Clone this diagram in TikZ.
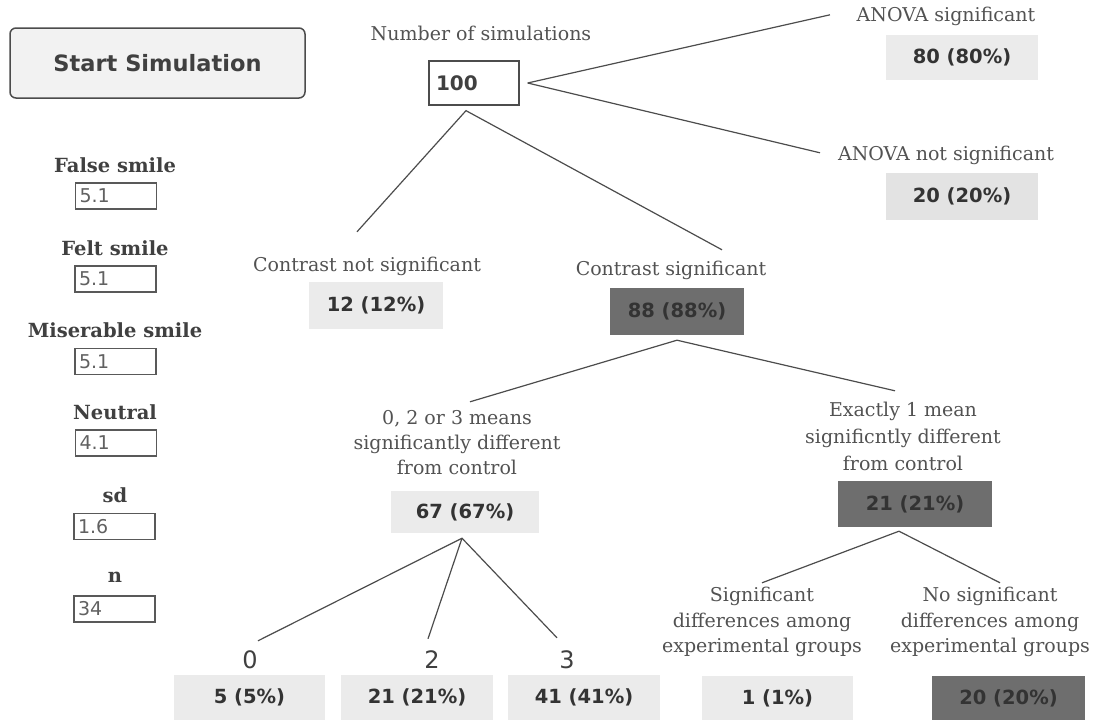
\documentclass[tikz,border=0pt]{standalone}
\usepackage{fontspec}
\setmainfont{DejaVu Serif}
\setsansfont{DejaVu Sans}
\begin{document}
\begin{tikzpicture}[x=1pt,y=-1pt,
  lbl/.style={font=\fontsize{19}{25}\selectfont\rmfamily, text=black!68, inner sep=1pt, align=center},
  parlbl/.style={font=\fontsize{19.5}{22}\selectfont\rmfamily\bfseries, text=black!75, inner sep=1pt},
  inbox/.style={draw=black!65, line width=1.3pt, minimum width=81pt, minimum height=26pt, text width=73pt, inner xsep=4pt, inner ysep=0pt, align=left, font=\fontsize{19}{20}\selectfont\sffamily, text=black!62},
  res/.style={fill=black!8, minimum width=152pt, minimum height=45pt, inner sep=0pt, font=\fontsize{19.5}{22}\selectfont\sffamily\bfseries, text=black!80},
  resdark/.style={res, fill=black!57, text=black!80},
  link/.style={draw=black!70, line width=1.2pt},
  digit/.style={font=\fontsize{24}{26}\selectfont\sffamily, text=black!75, inner sep=1pt}
]
\useasboundingbox (0,0) rectangle (1098,720);

% Start button
\node[draw=black!70, line width=1.5pt, rounded corners=6pt, fill=black!5, minimum width=295pt, minimum height=70pt,
  font=\fontsize{22.5}{26}\selectfont\sffamily\bfseries, text=black!75] (start) at (157.5,63) {Start Simulation};

% parameter inputs
\node[parlbl] (pl1) at (115,165) {False smile};
\node[inbox] (pv1) at (116,196) {5.1};
\node[parlbl] (pl2) at (115,248) {Felt smile};
\node[inbox] (pv2) at (115.5,279) {5.1};
\node[parlbl] (pl3) at (115,330) {Miserable smile};
\node[inbox] (pv3) at (115.5,361.5) {5.1};
\node[parlbl] (pl4) at (115,412) {Neutral};
\node[inbox] (pv4) at (116,443) {4.1};
\node[parlbl] (pl5) at (115,495) {sd};
\node[inbox] (pv5) at (114.5,526.5) {1.6};
\node[parlbl] (pl6) at (115,577) {n};
\node[inbox] (pv6) at (114.5,609) {34};

% root
\node[lbl] (nsim) at (481,33) {Number of simulations};
\node[draw=black!70, line width=1.3pt, minimum width=90pt, minimum height=44pt, text width=76pt, inner xsep=7pt, align=left,
  font=\fontsize{20}{22}\selectfont\sffamily\bfseries, text=black!75] (n100) at (474,83) {100};

% ANOVA
\node[lbl] (asig) at (946,16) {ANOVA significant};
\node[res] (b80) at (962,57.5) {80 (80\%)};
\node[lbl] (ansig) at (946,155) {ANOVA not significant};
\node[res, fill=black!11, minimum height=47pt] (b20a) at (962,196.5) {20 (20\%)};

% Contrast
\node[lbl] (cns) at (367,266) {Contrast not significant};
\node[res, minimum width=134pt, minimum height=47pt] (b12) at (376,305.5) {12 (12\%)};
\node[lbl] (cs) at (671,270) {Contrast significant};
\node[resdark, minimum width=134pt, minimum height=47pt] (b88) at (677,311.5) {88 (88\%)};

% second level
\node[lbl, font=\fontsize{19}{25}\selectfont\rmfamily] (m023) at (457,443) {0, 2 or 3 means\\significantly different\\from control};
\node[res, minimum width=148pt, minimum height=42pt] (b67) at (465,512) {67 (67\%)};
\node[lbl, font=\fontsize{19}{27}\selectfont\rmfamily] (m1) at (903,436) {Exactly 1 mean\\significntly different\\from control};
\node[resdark, minimum width=154pt, minimum height=46pt] (b21) at (915,504) {21 (21\%)};

% third level
\node[digit] (l0) at (250,660) {0};
\node[digit] (l2) at (432,660) {2};
\node[digit] (l3) at (567,660) {3};
\node[res, minimum width=151pt] (b5) at (249.5,697.5) {5 (5\%)};
\node[res] (b21b) at (417,697.5) {21 (21\%)};
\node[res] (b41) at (584,697.5) {41 (41\%)};

\node[lbl, font=\fontsize{19}{25.5}\selectfont\rmfamily] (sdg) at (762,622) {Significant\\differences among\\experimental groups};
\node[lbl, font=\fontsize{19}{25.5}\selectfont\rmfamily] (nsdg) at (990,622) {No significant\\differences among\\experimental groups};
\node[res, minimum width=151pt, minimum height=44pt] (b1) at (777.5,698) {1 (1\%)};
\node[resdark, minimum width=153pt, minimum height=44pt] (b20b) at (1008.5,698) {20 (20\%)};

% connectors
\draw[link] ([xshift=8pt]n100.east) -- ([shift={(-132,-20)}]b80.north);
\draw[link] ([xshift=8pt]n100.east) -- ([shift={(-142,-20)}]b20a.north);
\draw[link] ([shift={(-19,-50)}]b12.north) -- ([shift={(-8,5)}]n100.south) -- ([shift={(45,-38)}]b88.north);
\draw[link] ([shift={(5,-89)}]b67.north) -- ([shift={(0,5)}]b88.south) -- ([shift={(-20,-90)}]b21.north);
\draw[link] ([shift={(8.5,-34)}]b5.north) -- ([shift={(-3,5)}]b67.south) -- ([shift={(-27,-37)}]b41.north);
\draw[link] ([shift={(-3,5)}]b67.south) -- ([shift={(11,-36)}]b21b.north);
\draw[link] ([shift={(-15.5,-93)}]b1.north) -- ([shift={(-16,4)}]b21.south) -- ([shift={(-8.5,-93)}]b20b.north);
\end{tikzpicture}
\end{document}
